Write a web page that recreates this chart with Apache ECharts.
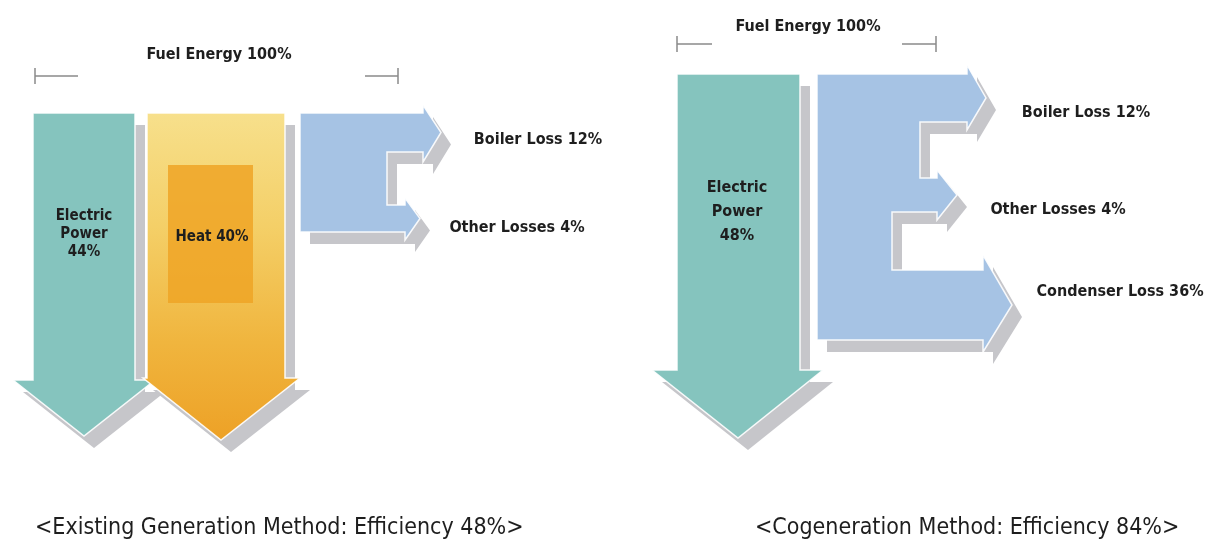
<!DOCTYPE html>
<html><head><meta charset="utf-8">
<script src="https://cdn.jsdelivr.net/npm/echarts@6/dist/echarts.min.js"></script>
<style>html,body{margin:0;padding:0;background:#fff}#c{width:1212px;height:560px}</style>
</head><body><div id="c"></div>
<script>
// ---- data (percent of fuel energy) ----
const diagrams = ['Existing Generation Method', 'Cogeneration Method'];
const efficiency = [48, 84];
const fuelEnergy = [100, 100];
const electricPower = [44, 48];
const heatRecovered = [40, null];
const boilerLoss = [12, 12];
const otherLosses = [4, 4];
const condenserLoss = [null, 36];

// ---- layout (axis units of a hidden 1212 x 560 value grid) ----
const FONT = '"Liberation Sans Narrow", "DejaVu Sans Condensed", "Liberation Sans", sans-serif';
const SH = { dx: 10, dy: 12 };
const COLORS = { teal: '#85c4be', blue: '#a6c3e4', shadow: '#c6c6ca', text: '#1e1e1e' };
const arrowLayout = {
  elec0: { x0: 33, x1: 135, yTop: 113, yBase: 380, hL: 13, hR: 155, tipX: 84, yTip: 436, lx: 84, ly: 234, lh: 18, fs: 15 },
  heat0: { x0: 147, x1: 285, yTop: 113, yBase: 378, hL: 143, hR: 300, tipX: 221, yTip: 440, lx: 212, ly: 237, lh: 18, fs: 15,
           inner: [168, 165, 253, 303] },
  elec1: { x0: 677, x1: 800, yTop: 74, yBase: 370, hL: 652, hR: 823, tipX: 738, yTip: 438, lx: 737, ly: 212, lh: 24, fs: 16 }
};
const lossLayout = [
  { x0: 300, yBottom: 232, notch: [387],
    branches: [ { y0: 113, y1: 152, xb: 423, ht: 105, hb: 162, tip: 441, lx: 538, ly: 140 },
                { y0: 205, y1: 232, xb: 405, ht: 198, hb: 240, tip: 420, lx: 517, ly: 228 } ] },
  { x0: 817, yBottom: 340, notch: [920, 892],
    branches: [ { y0: 74, y1: 122, xb: 967, ht: 65, hb: 130, tip: 986, lx: 1086, ly: 113 },
                { y0: 178, y1: 212, xb: 937, ht: 170, hb: 220, tip: 957, lx: 1058, ly: 210 },
                { y0: 270, y1: 340, xb: 983, ht: 255, hb: 352, tip: 1012, lx: 1120, ly: 292 } ] }
];
const bracketLayout = [
  { x0: 35, x1: 398, g0: 78, g1: 365, y: 76, tx: 219, ty: 55 },
  { x0: 677, x1: 936, g0: 712, g1: 902, y: 44, tx: 808, ty: 27 }
];
const captionLayout = [ { left: 35, top: 517 }, { left: 755, top: 517 } ];

// ---- series data built from the value arrays ----
const arrowData = [
  { name: 'elec0', value: [0, electricPower[0]] },
  { name: 'heat0', value: [0, heatRecovered[0]] },
  { name: 'elec1', value: [1, electricPower[1]] }
];
const lossData = diagrams.map((d, i) => ({ name: d, value: [i, boilerLoss[i], otherLosses[i], condenserLoss[i]] }));
const fuelData = diagrams.map((d, i) => ({ name: d, value: [i, fuelEnergy[i]] }));

function pts(list, api, off) {
  return list.map(p => api.coord([p[0] + (off ? SH.dx : 0), p[1] + (off ? SH.dy : 0)]));
}

function renderArrow(params, api) {
  const item = arrowData[params.dataIndex];
  const a = arrowLayout[item.name];
  const pct = api.value(1);
  const poly = [[a.x0, a.yTop], [a.x1, a.yTop], [a.x1, a.yBase], [a.hR, a.yBase], [a.tipX, a.yTip], [a.hL, a.yBase], [a.x0, a.yBase]];
  const isHeat = item.name.indexOf('heat') === 0;
  const fill = isHeat ? new echarts.graphic.LinearGradient(0, 0, 0, 1, [
      { offset: 0, color: '#f7e08c' }, { offset: 0.35, color: '#f4cf67' },
      { offset: 0.7, color: '#f0b53e' }, { offset: 1, color: '#eda126' }]) : COLORS.teal;
  const children = [
    { type: 'polygon', shape: { points: pts(poly, api, true) }, style: { fill: COLORS.shadow } },
    { type: 'polygon', shape: { points: pts(poly, api, false) }, style: { fill: fill, stroke: 'rgba(255,255,255,0.9)', lineWidth: 1.5 } }
  ];
  if (a.inner) {
    const p0 = api.coord([a.inner[0], a.inner[1]]), p1 = api.coord([a.inner[2], a.inner[3]]);
    children.push({ type: 'rect', shape: { x: p0[0], y: p0[1], width: p1[0] - p0[0], height: p1[1] - p0[1] },
      style: { fill: 'rgba(238,165,38,0.85)' } });
  }
  const c = api.coord([a.lx, a.ly]);
  const txt = isHeat ? 'Heat ' + pct + '%' : 'Electric\nPower\n' + pct + '%';
  children.push({ type: 'text', x: c[0], y: c[1], style: { text: txt, fill: COLORS.text, fontFamily: FONT,
    fontSize: a.fs, fontWeight: 'bold', lineHeight: a.lh, align: 'center', verticalAlign: 'middle' } });
  return { type: 'group', children };
}

function renderLoss(params, api) {
  const L = lossLayout[params.dataIndex];
  const names = ['Boiler Loss ', 'Other Losses ', 'Condenser Loss '];
  const vals = [api.value(1), api.value(2), api.value(3)];
  const br = L.branches;
  const poly = [[L.x0, br[0].y0]];
  br.forEach((b, k) => {
    const mid = (b.y0 + b.y1) / 2;
    poly.push([b.xb, b.y0], [b.xb, b.ht], [b.tip, mid], [b.xb, b.hb], [b.xb, b.y1]);
    if (k < br.length - 1) { poly.push([L.notch[k], b.y1], [L.notch[k], br[k + 1].y0]); }
  });
  poly.push([L.x0, L.yBottom]);
  const children = [
    { type: 'polygon', shape: { points: pts(poly, api, true) }, style: { fill: COLORS.shadow } },
    { type: 'polygon', shape: { points: pts(poly, api, false) }, style: { fill: COLORS.blue, stroke: 'rgba(255,255,255,0.9)', lineWidth: 1.5 } }
  ];
  let vi = 0;
  br.forEach((b, k) => {
    while (vi < vals.length && (vals[vi] === null || isNaN(vals[vi]))) vi++;
    const c = api.coord([b.lx, b.ly]);
    children.push({ type: 'text', x: c[0], y: c[1], style: { text: names[vi] + vals[vi] + '%', fill: COLORS.text,
      fontFamily: FONT, fontSize: 16, fontWeight: 'bold', align: 'center', verticalAlign: 'middle' } });
    vi++;
  });
  return { type: 'group', children };
}

function renderFuel(params, api) {
  const B = bracketLayout[params.dataIndex];
  const a = api.coord([B.x0, B.y]), g0 = api.coord([B.g0, B.y]), g1 = api.coord([B.g1, B.y]), b = api.coord([B.x1, B.y]);
  const ls = { stroke: '#8a8a8a', lineWidth: 1.5 };
  const t = api.coord([B.tx, B.ty]);
  return { type: 'group', children: [
    { type: 'line', shape: { x1: a[0], y1: a[1], x2: g0[0], y2: g0[1] }, style: ls },
    { type: 'line', shape: { x1: a[0], y1: a[1] - 8, x2: a[0], y2: a[1] + 8 }, style: ls },
    { type: 'line', shape: { x1: g1[0], y1: g1[1], x2: b[0], y2: b[1] }, style: ls },
    { type: 'line', shape: { x1: b[0], y1: b[1] - 8, x2: b[0], y2: b[1] + 8 }, style: ls },
    { type: 'text', x: t[0], y: t[1], style: { text: 'Fuel Energy ' + api.value(1) + '%', fill: COLORS.text, fontFamily: FONT,
      fontSize: 16, fontWeight: 'bold', align: 'center', verticalAlign: 'middle' } }
  ] };
}

const chart = echarts.init(document.getElementById('c'));
chart.setOption({
  backgroundColor: '#ffffff',
  animation: false,
  title: diagrams.map((d, i) => ({
    text: '<' + d + ': Efficiency ' + efficiency[i] + '%>',
    left: captionLayout[i].left, top: captionLayout[i].top, padding: 0,
    textStyle: { fontFamily: FONT, fontSize: 23, fontWeight: 'normal', color: '#1e1e1e' }
  })),
  grid: { left: 0, right: 0, top: 0, bottom: 0 },
  xAxis: { type: 'value', min: 0, max: 1212, show: false },
  yAxis: { type: 'value', min: 0, max: 560, inverse: true, show: false },
  series: [
    { type: 'custom', name: 'fuel', data: fuelData, renderItem: renderFuel, silent: true },
    { type: 'custom', name: 'useful', data: arrowData, renderItem: renderArrow, silent: true },
    { type: 'custom', name: 'losses', data: lossData, renderItem: renderLoss, silent: true }
  ]
});
</script></body></html>
